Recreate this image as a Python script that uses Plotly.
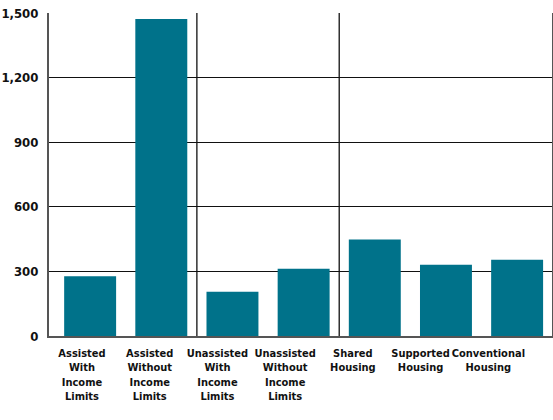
import plotly.graph_objects as go

categories = [
    "Assisted<br>With<br>Income<br>Limits",
    "Assisted<br>Without<br>Income<br>Limits",
    "Unassisted<br>With<br>Income<br>Limits",
    "Unassisted<br>Without<br>Income<br>Limits",
    "Shared<br>Housing",
    "Supported<br>Housing",
    "Conventional<br>Housing",
]
values = [278, 1472, 206, 312, 448, 331, 354]
y_ticks = [0, 300, 600, 900, 1200, 1500]
y_tick_labels = ["0", "300", "600", "900", "1,200", "1,500"]
group_breaks = [1.5, 3.5]

FONT = "DejaVu Sans Condensed, Liberation Sans Narrow, Roboto, sans-serif"
BAR = "#00728A"

idx = list(range(len(categories)))

fig = go.Figure()
fig.add_trace(go.Bar(
    x=idx,
    y=values,
    marker=dict(color=BAR, line=dict(width=0)),
    width=0.73,
    xaxis="x", yaxis="y",
))
# invisible carrier trace for the label axis
fig.add_trace(go.Scatter(
    x=idx, y=values, xaxis="x2", yaxis="y",
    mode="markers", marker=dict(opacity=0), hoverinfo="skip", showlegend=False,
))

shapes = []
for xb in group_breaks:
    shapes.append(dict(type="line", xref="x", yref="paper", x0=xb, x1=xb, y0=0, y1=1,
                       line=dict(color="#111111", width=1.3), layer="above"))

fig.update_layout(
    width=553, height=420,
    margin=dict(l=49, r=1, t=13, b=84, autoexpand=False),
    plot_bgcolor="white", paper_bgcolor="white",
    showlegend=False,
    font=dict(family=FONT, color="#111111"),
    shapes=shapes,
    xaxis=dict(
        range=[-0.578, 6.49],
        showticklabels=False,
        showgrid=False, zeroline=False,
        showline=True, linecolor="#555555", linewidth=2,
        ticks="", automargin=False,
    ),
    xaxis2=dict(
        overlaying="x", anchor="y", side="bottom",
        range=[-0.487, 6.94],
        tickmode="array",
        tickvals=idx,
        ticktext=[f"<b>{c}</b>" for c in categories],
        tickfont=dict(size=11, family=FONT, color="#111111"),
        tickangle=0,
        automargin=False,
        ticklabeloverflow="allow",
        ticklabelstandoff=9,
        showgrid=False, zeroline=False, showline=False,
        ticks="",
    ),
    yaxis=dict(
        range=[0, 1500],
        tickmode="array",
        tickvals=y_ticks,
        ticktext=[f"<b>{t}</b>" for t in y_tick_labels],
        tickfont=dict(size=13, family=FONT, color="#111111"),
        automargin=False,
        showgrid=True, gridcolor="#111111", gridwidth=1.2,
        zeroline=False,
        showline=True, linecolor="#555555", linewidth=2, mirror=True,
        ticks="", ticklabelstandoff=6,
    ),
)

fig.write_html("out.html", config={"displayModeBar": False},
               post_script="document.body.style.margin='0';document.body.style.padding='0';")
